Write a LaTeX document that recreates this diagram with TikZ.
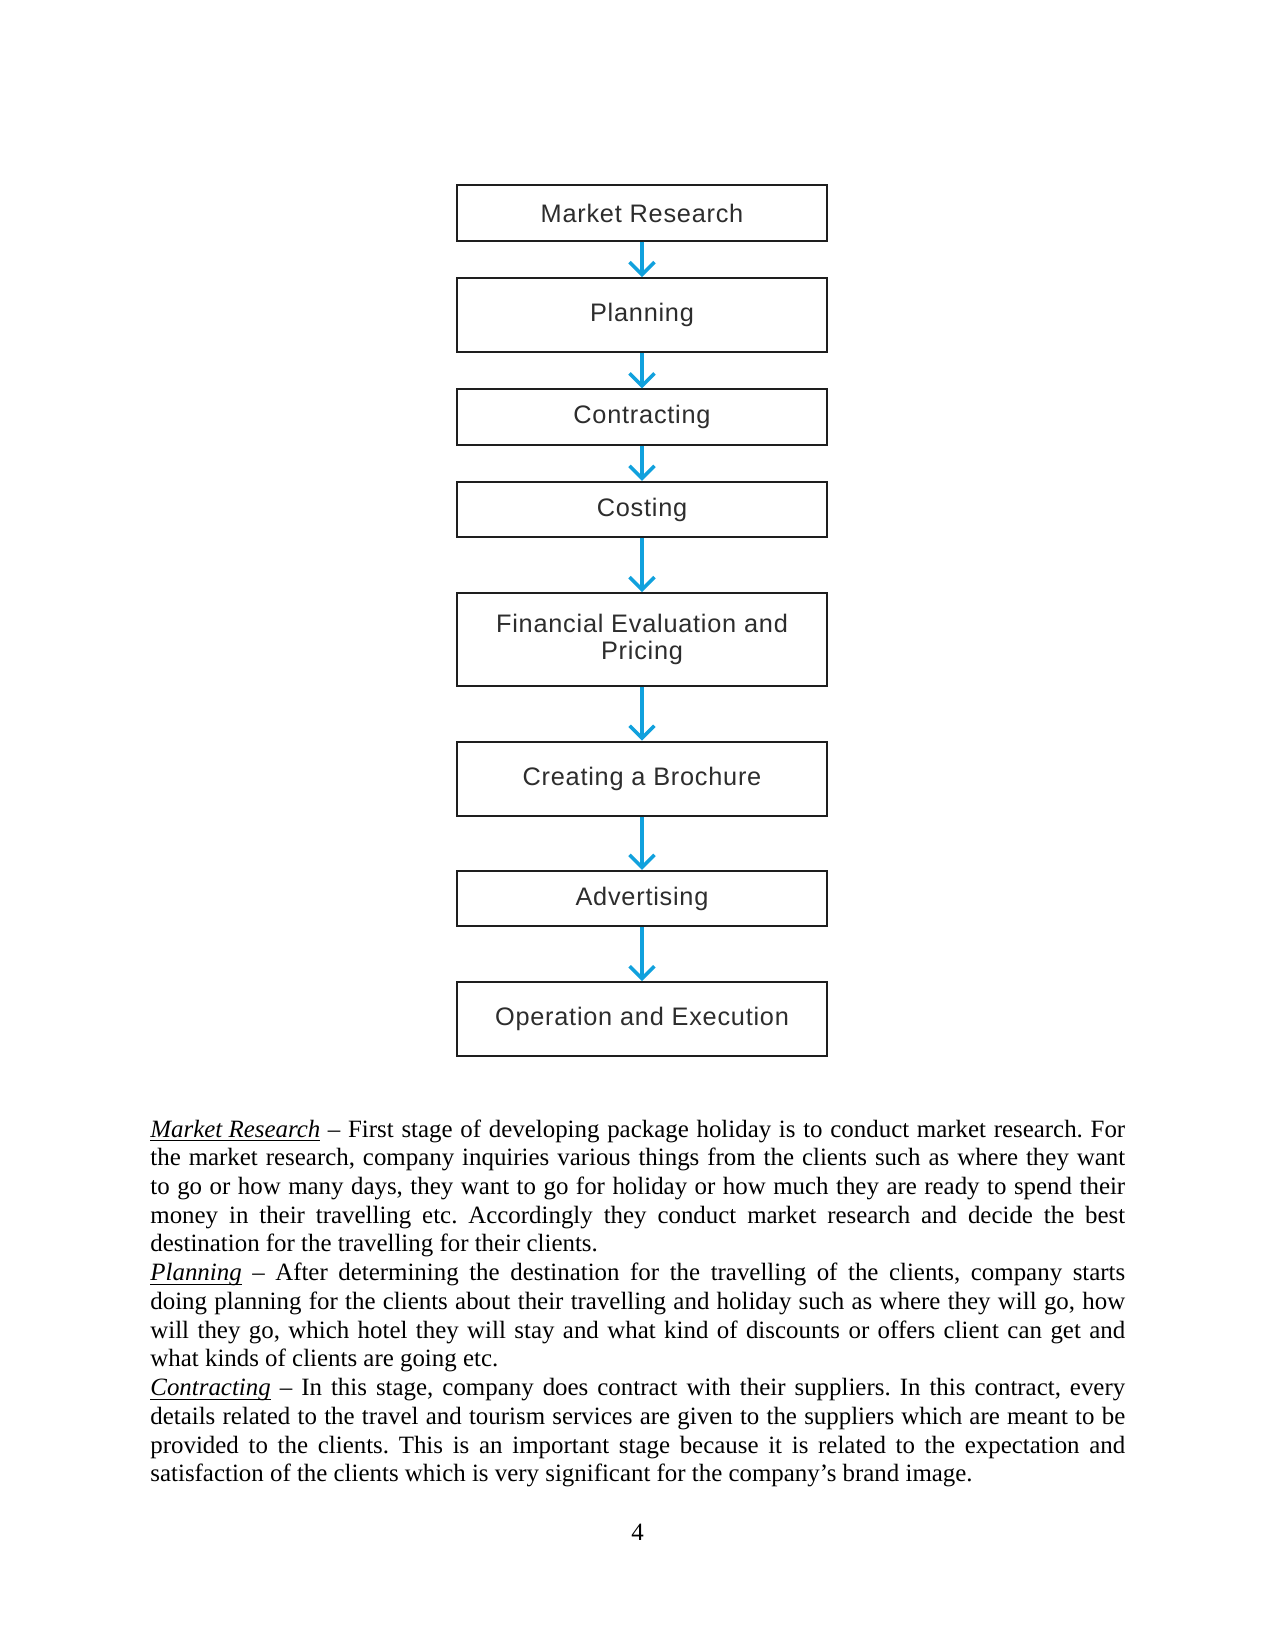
\documentclass[tikz,border=0pt]{standalone}
\usepackage{fontspec}
\setmainfont{Liberation Serif}
\newfontfamily\boxfont[LetterSpace=3]{Liberation Sans}
\usetikzlibrary{arrows.meta}

\definecolor{arrowblue}{RGB}{17,161,221}
\definecolor{boxtext}{RGB}{45,45,45}
\definecolor{boxline}{RGB}{30,30,30}

\newsavebox{\stagebox}
\newcommand{\stagename}[1]{\leavevmode\sbox{\stagebox}{\textit{#1}}\rlap{\rule[-2pt]{\wd\stagebox}{0.5pt}}\usebox{\stagebox}}

\begin{document}
\begin{tikzpicture}[
    x=0.016933cm, y=-0.016933cm,
    stage/.style={rectangle, draw=boxline, line width=0.9pt, minimum width=6.28cm, minimum height=0.94cm, inner sep=0pt, align=center, text=boxtext, font=\boxfont\fontsize{12.2pt}{12.8pt}\selectfont},
    tallstage/.style={stage, minimum height=1.255cm},
    arrow/.style={-{Straight Barb[length=6pt, width=12pt]}, line width=1.7pt, draw=arrowblue}
]
    \fill[white] (0,0) rectangle (1275,1650);
    \useasboundingbox (0,0) rectangle (1275,1650);

    % Stages
    \node[stage] (market) at (642,213) {Market Research};
    \node[tallstage] (plan) at (642,315) {Planning};
    \node[stage] (contract) at (642,417) {Contracting};
    \node[stage] (cost) at (642,509.5) {Costing};
    \node[stage, minimum height=1.57cm] (finance) at (642,639.3) {Financial Evaluation and\\Pricing};
    \node[tallstage] (brochure) at (642,778.7) {Creating a Brochure};
    \node[stage] (advert) at (642,898.5) {Advertising};
    \node[tallstage] (operation) at (642,1019.2) {Operation and Execution};

    % Arrows
    \draw[arrow] (market) -- (plan);
    \draw[arrow] (plan) -- (contract);
    \draw[arrow] (contract) -- (cost);
    \draw[arrow] (cost) -- (finance);
    \draw[arrow] (finance) -- (brochure);
    \draw[arrow] (brochure) -- (advert);
    \draw[arrow] (advert) -- (operation);

    % Text below the chart
    \node[anchor=base west, inner sep=0pt, text width=6.5in, align=justify,
          font=\fontsize{12pt}{13.85pt}\selectfont] (notes) at (150,1137) {%
        \frenchspacing\hyphenpenalty=10000\tolerance=9999%
        \stagename{Market Research} – First stage of developing package holiday is to conduct market research. For\linebreak
        the market research, company inquiries various things from the clients such as where they want\linebreak
        to go or how many days, they want to go for holiday or how much they are ready to spend their\linebreak
        money in their travelling etc. Accordingly they conduct market research and decide the best\linebreak
        destination for the travelling for their clients.\par
        \stagename{Planning} – After determining the destination for the travelling of the clients, company starts\linebreak
        doing planning for the clients about their travelling and holiday such as where they will go, how\linebreak
        will they go, which hotel they will stay and what kind of discounts or offers client can get and\linebreak
        what kinds of clients are going etc.\par
        \stagename{Contracting} – In this stage, company does contract with their suppliers. In this contract, every\linebreak
        details related to the travel and tourism services are given to the suppliers which are meant to be\linebreak
        provided to the clients. This is an important stage because it is related to the expectation and\linebreak
        satisfaction of the clients which is very significant for the company's brand image.};

    % Page number
    \node[anchor=base, inner sep=0pt, font=\fontsize{12pt}{13.85pt}\selectfont] (pagenum) at (637.5,1540) {4};
\end{tikzpicture}
\end{document}
